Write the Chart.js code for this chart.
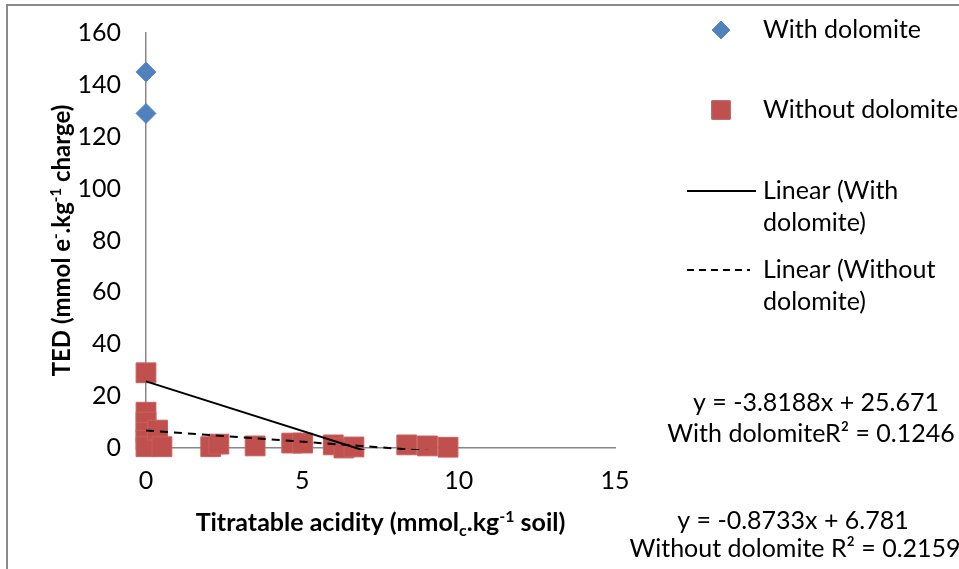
<!DOCTYPE html>
<html>
<head>
<meta charset="utf-8">
<script src="https://cdn.jsdelivr.net/npm/chart.js@4/dist/chart.umd.min.js"></script>
<style>
body{margin:0;background:#fff;}
</style>
</head>
<body>
<canvas id="tedChart" width="959" height="569"></canvas>
<script>
const withX = [0, 0];
const withY = [145, 129];
const withoutX = [0, 0, 0, 0, 0, 0, 0.37, 0.51, 2.07, 2.33, 3.49, 4.66, 5.01, 5.99, 6.33, 6.65, 8.34, 9.0, 9.66];
const withoutY = [29, 13.8, 10, 6, 3, 0.5, 6.9, 0.5, 0.5, 1.5, 0.8, 1.9, 1.9, 1.2, 0, 0.4, 1.2, 0.8, 0.3];

// fitted lines (slope, intercept, r2)
const fitWith = [-3.8188, 25.671, 0.1246];
const fitWithout = [-0.8733, 6.781, 0.2159];
const fitRange = [0, 9.66];

const xRange = [0, 15, 5];
const yRange = [0, 160, 20];

const FONT = 'Lato, "Open Sans", sans-serif';
const BLUE = '#4F81BD';
const RED = '#C0504D';

function fitPoints(fit){
  return fitRange.map(x => ({x, y: fit[0]*x + fit[1]}));
}

function eqText(fit){
  return `y = ${fit[0]}x + ${fit[1]}`;
}

function richWidth(ctx, segs, size, weight){
  let w = 0;
  segs.forEach(s=>{
    ctx.font = `${weight} ${s.sup||s.sub ? Math.round(size*0.62) : size}px ${FONT}`;
    w += ctx.measureText(s.t).width;
  });
  return w;
}

function drawRich(ctx, segs, cx, cy, size, weight, angle){
  ctx.save();
  ctx.translate(cx, cy);
  ctx.rotate(angle);
  let x = -richWidth(ctx, segs, size, weight)/2;
  ctx.textAlign = 'left';
  ctx.textBaseline = 'alphabetic';
  ctx.fillStyle = '#000';
  segs.forEach(s=>{
    const small = s.sup || s.sub;
    ctx.font = `${weight} ${small ? Math.round(size*0.62) : size}px ${FONT}`;
    const dy = s.sup ? -size*0.36 : s.sub ? size*0.2 : 0;
    ctx.fillText(s.t, x, size*0.36 + dy);
    x += ctx.measureText(s.t).width;
  });
  ctx.restore();
}

// outer chart frame, only top and left edges are in view
const frame = {
  id:'frame',
  beforeDraw(chart){
    const c = chart.ctx;
    c.save();
    c.fillStyle = '#8a8a8a';
    c.fillRect(6, 4, 2, chart.height);
    c.fillRect(6, 4, chart.width, 2);
    c.restore();
  }
};

const axisTitles = {
  id:'axisTitles',
  afterDraw(chart){
    const c = chart.ctx, a = chart.chartArea;
    drawRich(c, [
      {t:'TED (mmol e'}, {t:'-', sup:true}, {t:'.kg'}, {t:'-1', sup:true}, {t:' charge)'}
    ], 61, (a.top+a.bottom)/2, 24, 'bold', -Math.PI/2);
    drawRich(c, [
      {t:'Titratable acidity (mmol'}, {t:'c', sub:true}, {t:'.kg'}, {t:'-1', sup:true}, {t:' soil)'}
    ], (a.left+a.right)/2, 522, 25, 'bold', 0);
  }
};

const sideLegend = {
  id:'sideLegend',
  afterDraw(chart, args, opts){
    const c = chart.ctx;
    c.save();
    c.font = `25px ${FONT}`;
    c.fillStyle = '#000';
    c.textBaseline = 'middle';
    c.textAlign = 'left';
    opts.rows.forEach(r=>{
      const ds = chart.data.datasets[r.ds];
      if(ds.showLine){
        c.strokeStyle = ds.borderColor;
        c.lineWidth = 2;
        c.setLineDash(ds.borderDash ? [7,5] : []);
        c.beginPath();
        c.moveTo(687, r.y);
        c.lineTo(r.lineEnd, r.y);
        c.stroke();
        c.setLineDash([]);
      } else {
        Chart.helpers.drawPoint(c, {
          pointStyle: ds.pointStyle, radius: r.radius, borderWidth: 1, rotation: 0
        }, 721, r.y);
        c.fillStyle = ds.backgroundColor;
        c.strokeStyle = ds.borderColor;
        c.lineWidth = 1;
        c.fill();
        c.stroke();
        c.fillStyle = '#000';
      }
      r.text.forEach((t,i)=> c.fillText(t, 763, r.y + i*32));
    });
    c.restore();
  }
};

const equations = {
  id:'equations',
  afterDraw(chart){
    const c = chart.ctx;
    c.save();
    c.font = `25px ${FONT}`;
    c.fillStyle = '#000';
    c.textAlign = 'center';
    c.textBaseline = 'middle';
    c.fillText(eqText(fitWith), 816, 403);
    c.fillText(`With dolomiteR² = ${fitWith[2]}`, 811, 434);
    c.fillText(eqText(fitWithout), 793, 521);
    c.fillText(`Without dolomite R² = ${fitWithout[2]}`, 795, 549);
    c.restore();
  }
};

const tickFont = {family: FONT, size: 25};

new Chart(document.getElementById('tedChart'), {
  type:'scatter',
  data:{
    datasets:[
      {label:'With dolomite', data: withX.map((x,i)=>({x, y: withY[i]})), clip:false,
        pointStyle:'rectRot', pointRadius:10, backgroundColor:BLUE, borderColor:'#5a8ac4', borderWidth:1, order:1},
      {label:'Without dolomite', data: withoutX.map((x,i)=>({x, y: withoutY[i]})), clip:false,
        pointStyle:'rect', pointRadius:14, backgroundColor:RED, borderColor:'#c9615e', borderWidth:1, order:1},
      {label:'Linear (With dolomite)', data: fitPoints(fitWith), showLine:true,
        clip:{left:2, top:2, right:2, bottom:2},
        borderColor:'#000', borderWidth:2, pointRadius:0, order:0},
      {label:'Linear (Without dolomite)', data: fitPoints(fitWithout), showLine:true,
        clip:{left:2, top:2, right:2, bottom:2},
        borderColor:'#000', borderWidth:2, borderDash:[8,6], pointRadius:0, order:0}
    ]
  },
  options:{
    responsive:false,
    animation:false,
    events:[],
    layout:{padding:{left:0, top:33, right:344, bottom:0}},
    plugins:{
      legend:{display:false},
      tooltip:{enabled:false},
      sideLegend:{rows:[
        {ds:0, y:30, radius:9, text:['With dolomite']},
        {ds:1, y:110, radius:13, text:['Without dolomite']},
        {ds:2, y:191, lineEnd:756, text:['Linear (With','dolomite)']},
        {ds:3, y:270, lineEnd:750, text:['Linear (Without','dolomite)']}
      ]}
    },
    scales:{
      // tick marks are hidden; tickLength only sets the label gap
      x:{
        type:'linear', min:xRange[0], max:xRange[1],
        ticks:{stepSize:xRange[2], color:'#000', font:tickFont, padding:0},
        grid:{display:false, drawTicks:true, tickLength:18},
        border:{color:'#888', width:1.5},
        afterFit(s){ s.height = 121; }
      },
      y:{
        min:yRange[0], max:yRange[1],
        ticks:{stepSize:yRange[2], color:'#000', font:tickFont, padding:0},
        grid:{display:false, drawTicks:true, tickLength:25},
        border:{color:'#888', width:1.5},
        afterFit(s){ s.width = 146; }
      }
    }
  },
  plugins:[frame, axisTitles, sideLegend, equations]
});
</script>
</body>
</html>
